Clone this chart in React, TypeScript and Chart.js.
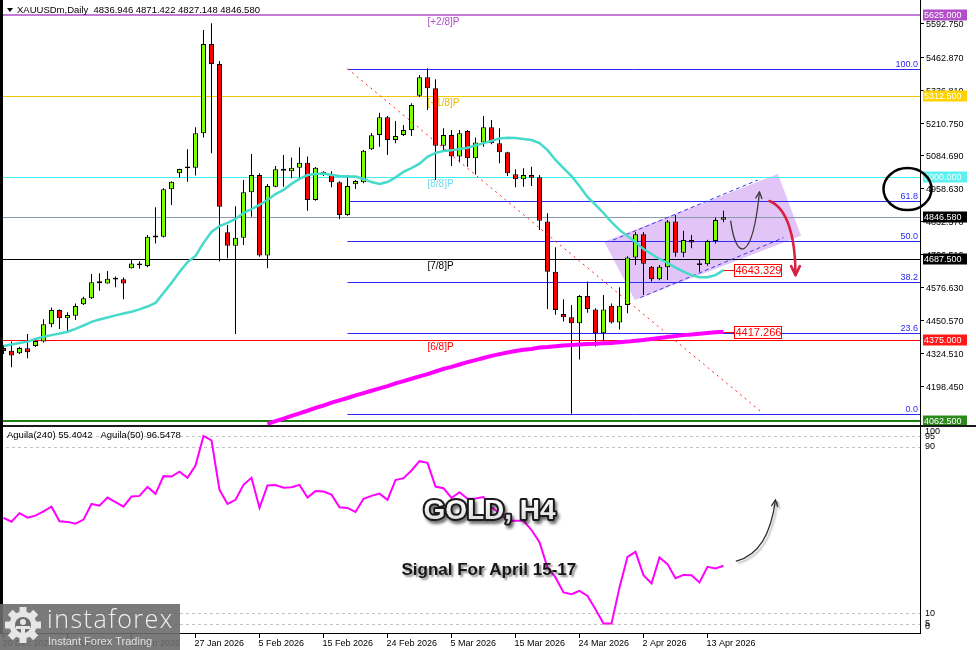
import React, { useEffect, useRef } from 'react';
import { Chart, registerables } from 'chart.js';

Chart.register(...registerables);

// ---------------- data ----------------
const headerText = 'XAUUSDm,Daily  4836.946 4871.422 4827.148 4846.580';
const xTickIndex = [0, 8, 16, 24, 32, 40, 48, 56, 64, 72, 80, 88];
const xTickLabels = ['30 Dec 2025', '8 Jan 2026', '18 Jan 2026', '27 Jan 2026', '5 Feb 2026', '15 Feb 2026', '24 Feb 2026', '5 Mar 2026', '15 Mar 2026', '24 Mar 2026', '2 Apr 2026', '13 Apr 2026'];

const opens = [4343, 4333, 4323, 4342, 4351, 4368, 4435, 4490, 4458, 4468,
  4512, 4535, 4593, 4592, 4607, 4608, 4650, 4669, 4659, 4769,
  4772, 4954, 5016, 5035, 5037, 5170, 5513, 5436, 4789, 4737,
  4768, 4943, 5009, 4699, 4964, 5026, 5024, 5037, 5056, 4913,
  5022, 5014, 4981, 4855, 4974, 4981, 5108, 5163, 5231, 5144,
  5163, 5182, 5314, 5385, 5343, 5122, 5163, 5080, 5179, 5074,
  5134, 5193, 5131, 5097, 5012, 4993, 5009, 5001, 4830, 4637,
  4474, 4462, 4439, 4544, 4492, 4400, 4506, 4442, 4509, 4692,
  4781, 4656, 4608, 4654, 4830, 4710, 4759, 4663, 4666, 4755,
  4836.946];
const highs = [4355, 4368, 4348, 4397, 4379, 4454, 4499, 4492, 4481, 4515,
  4541, 4628, 4631, 4640, 4619, 4615, 4682, 4677, 4778, 4885,
  4958, 4985, 5033, 5108, 5193, 5567, 5593, 5448, 4817, 4889,
  4990, 5090, 5016, 4975, 5044, 5086, 5077, 5116, 5080, 5040,
  5024, 5024, 4985, 5009, 4990, 5105, 5171, 5249, 5236, 5217,
  5202, 5285, 5394, 5420, 5378, 5189, 5182, 5182, 5182, 5154,
  5236, 5221, 5189, 5099, 5031, 5035, 5041, 5009, 4862, 4731,
  4531, 4509, 4547, 4599, 4496, 4547, 4515, 4577, 4697, 4790,
  4790, 4659, 4663, 4836, 4855, 4795, 4778, 4685, 4760, 4846,
  4871.422];
const lows = [4320, 4269, 4320, 4304, 4347, 4365, 4423, 4417, 4402, 4451,
  4509, 4532, 4564, 4592, 4577, 4531, 4649, 4648, 4654, 4746,
  4769, 4894, 4999, 4983, 5007, 5154, 5093, 4676, 4689, 4397,
  4740, 4849, 4695, 4650, 4962, 4964, 4997, 4997, 4872, 4910,
  5005, 4962, 4839, 4852, 4955, 4977, 5105, 5118, 5086, 5131,
  5159, 5159, 5309, 5259, 4990, 5099, 5044, 5057, 5041, 5011,
  5118, 5128, 5054, 5005, 4962, 4964, 4967, 4798, 4494, 4471,
  4445, 4090, 4299, 4479, 4349, 4368, 4438, 4415, 4477, 4663,
  4547, 4599, 4604, 4605, 4695, 4693, 4727, 4637, 4660, 4746,
  4827.148];
const closes = [4332, 4315, 4343, 4327, 4370, 4435, 4490, 4458, 4470, 4505,
  4535, 4596, 4600, 4610, 4614, 4592, 4669, 4662, 4772, 4776,
  4954, 4983, 5032, 5042, 5170, 5513, 5436, 4887, 4737, 4768,
  4943, 5009, 4699, 4967, 5031, 5033, 5037, 5056, 4913, 5037,
  5011, 4981, 4855, 4967, 4986, 5103, 5162, 5231, 5144, 5159,
  5182, 5279, 5385, 5343, 5122, 5163, 5080, 5170, 5074, 5134,
  5193, 5131, 5097, 5016, 4993, 5009, 4999, 4833, 4637, 4490,
  4462, 4439, 4544, 4494, 4400, 4492, 4442, 4506, 4692, 4781,
  4668, 4608, 4656, 4830, 4710, 4759, 4749, 4670, 4755, 4836,
  4846.58];

const maFast = [4351, 4357, 4363, 4368, 4378, 4387, 4393, 4399, 4406, 4417,
  4430, 4444, 4453, 4461, 4469, 4476, 4483, 4492, 4503, 4517,
  4555, 4594, 4636, 4674, 4698, 4748, 4790, 4813, 4825, 4840,
  4863, 4878, 4894, 4913, 4936, 4952, 4975, 4994, 5009, 5013,
  5015, 5009, 5005, 5003, 5003, 4994, 4982, 4975, 4982, 5000,
  5021, 5036, 5053, 5079, 5094, 5102, 5104, 5109, 5114, 5123,
  5132, 5140, 5150, 5153, 5152, 5148, 5144, 5132, 5105, 5067,
  5036, 5005, 4967, 4925, 4894, 4863, 4828, 4798, 4774, 4751,
  4724, 4705, 4686, 4671, 4653, 4637, 4624, 4616, 4616, 4624,
  4643.329];
const maFastLabel = '4643.329';

const maSlowStart = 33;
const maSlow = [4051, 4062, 4072, 4082, 4092, 4102, 4113, 4122, 4133, 4142,
  4151, 4161, 4170, 4179, 4188, 4197, 4207, 4216, 4225, 4234,
  4243, 4253, 4263, 4271, 4280, 4289, 4297, 4305, 4313, 4320,
  4326, 4332, 4337, 4340, 4345, 4347, 4350, 4353, 4355, 4357,
  4359, 4360, 4362, 4363, 4366, 4368, 4371, 4374, 4378, 4382,
  4386, 4390, 4393, 4395, 4398, 4401, 4404, 4406];
const maSlowLabel = '4417.266';

const priceTicks = [5592.75, 5462.87, 5336.81, 5210.75, 5084.69, 4958.63, 4832.57, 4706.51, 4576.63, 4450.57, 4324.51, 4198.45];
const PRICE_MIN = 4047.1;
const PRICE_MAX = 5682.7;
const X_MIN = -0.4375;
const X_MAX = 114.5625;

const murreyLevels = [5625, 5312.5, 5000, 4687.5, 4375, 4062.5];
const murreyNames = ['[+2/8]P', '[+1/8]P', '[8/8]P', '[7/8]P', '[6/8]P', ''];
const murreyColors = ['#B24FC8', '#F4C800', '#3EF0F0', '#000000', '#FF0000', '#1E7B14'];
const murreyWidths = [1.5, 1, 1, 1, 1, 2];
const murreyTextColors = ['#B24FC8', '#E8B800', '#70DCF2', '#000000', '#FF0000', '#1E7B14'];
const murreyBoxColors = ['#B24FC8', '#FFD200', '#5CF0F0', '#000000', '#FF1818', '#2C8A1C'];
const murreyLabelIndex = 53;

const lastPrice = 4846.58;

const fibHigh = 5418.3;
const fibLow = 4089.4;
const fibStartIndex = 43;
const fibLevels = [100, 61.8, 50, 38.2, 23.6, 0];

const trendIndex = [43, 94.9];
const trendPrice = [5418.3, 4093];

const channelIndex = [75.1, 96.8, 99.7, 78.9];
const channelPrice = [4752, 5013, 4775, 4528];
const channelUpperIndex = [76.2, 94.3];
const channelUpperPrice = [4759, 4990];
const channelLowerIndex = [79.6, 97.5];
const channelLowerPrice = [4537, 4768];

const pathArrowIndex = [90.9, 91.6, 93.6, 94.5];
const pathArrowPrice = [4832, 4674, 4674, 4944];
const redArrowIndex = [95.75, 97.9, 99.0, 99.0];
const redArrowPrice = [4909, 4882, 4778, 4624];
const circleIndex = 113;
const circlePrice = 4955;

const aguila = [55.8, 54.0, 58.1, 55.9, 56.9, 59.0, 61.2, 54.2, 53.9, 53.0,
  55.0, 62.5, 61.7, 65.6, 63.4, 61.2, 66.1, 66.4, 70.7, 67.4,
  75.9, 75.7, 78.0, 75.1, 81.0, 95.2, 93.1, 69.3, 62.5, 64.5,
  71.7, 75.1, 60.6, 71.4, 71.6, 70.3, 70.6, 71.7, 65.6, 68.7,
  68.5, 67.0, 60.9, 60.6, 58.7, 65.0, 66.4, 67.5, 64.5, 74.0,
  74.9, 78.6, 83.1, 82.3, 70.9, 70.1, 65.4, 68.2, 65.0, 65.1,
  65.8, 60.9, 58.1, 54.5, 54.5, 54.5, 50.0, 44.1, 32.0, 27.2,
  20.0, 19.1, 20.7, 18.3, 11.9, 5.0, 5.0, 22.4, 37.1, 39.5,
  28.3, 24.3, 36.8, 33.6, 26.8, 28.4, 28.3, 24.8, 32.3, 31.5,
  32.8];
const aguilaLevels = [95, 90, 10, 5];
const aguilaAxisLabels = [100, 95, 90, 10, 5, 0];
const aguilaTitle = 'Aguila(240) 55.4042   Aguila(50) 96.5478';

const lowerArrowIndex = [91.6, 94.4, 95.9, 96.5];
const lowerArrowValue = [35.0, 38.0, 47.6, 64.5];
const titleText = 'GOLD, H4';
const titleAt = [60.75, 58.9];
const signalText = 'Signal For April 15-17';
const signalAt = [60.67, 30.7];

const FONT = '"Liberation Sans", Arial, sans-serif';
const BULL = '#7CFF00';
const BEAR = '#FF0000';

// ---------------- helpers ----------------
function seg(ctx: any, x1: number, y1: number, x2: number, y2: number, color: string, w: number, dash?: number[]) {
  ctx.save();
  ctx.strokeStyle = color;
  ctx.lineWidth = w;
  ctx.setLineDash(dash || []);
  ctx.beginPath();
  ctx.moveTo(x1, y1);
  ctx.lineTo(x2, y2);
  ctx.stroke();
  ctx.restore();
}

function arrowHead(ctx: any, fx: number, fy: number, tx: number, ty: number, len: number, ang: number) {
  const a = Math.atan2(ty - fy, tx - fx);
  ctx.beginPath();
  ctx.moveTo(tx - len * Math.cos(a - ang), ty - len * Math.sin(a - ang));
  ctx.lineTo(tx, ty);
  ctx.lineTo(tx - len * Math.cos(a + ang), ty - len * Math.sin(a + ang));
  ctx.stroke();
}

function bezierArrow(ctx: any, pts: number[][], color: string, w: number, head: number) {
  ctx.save();
  ctx.strokeStyle = color;
  ctx.lineWidth = w;
  ctx.lineCap = 'round';
  ctx.lineJoin = 'round';
  ctx.beginPath();
  ctx.moveTo(pts[0][0], pts[0][1]);
  ctx.bezierCurveTo(pts[1][0], pts[1][1], pts[2][0], pts[2][1], pts[3][0], pts[3][1]);
  ctx.stroke();
  arrowHead(ctx, pts[2][0], pts[2][1], pts[3][0], pts[3][1], head, 0.45);
  ctx.restore();
}

const mainDecor = {
  id: 'mainDecor',
  beforeDatasetsDraw(chart: any) {
    const { ctx, chartArea: a } = chart;
    const X = (v: number) => chart.scales.x.getPixelForValue(v);
    const Y = (v: number) => chart.scales.y.getPixelForValue(v);
    ctx.save();
    ctx.beginPath();
    ctx.rect(a.left, a.top, a.right - a.left, a.bottom - a.top);
    ctx.clip();

    // channel box
    ctx.fillStyle = 'rgba(204,148,240,0.55)';
    ctx.beginPath();
    channelIndex.forEach((ci, k) => {
      const xx = X(ci), yy = Y(channelPrice[k]);
      if (k) ctx.lineTo(xx, yy); else ctx.moveTo(xx, yy);
    });
    ctx.closePath();
    ctx.fill();

    // last price line
    const lp = Math.round(Y(lastPrice)) + 0.5;
    seg(ctx, a.left, lp, a.right, lp, '#8A9AAE', 1);

    // fibonacci
    ctx.font = '9px ' + FONT;
    fibLevels.forEach((l) => {
      const v = fibLow + (fibHigh - fibLow) * l / 100;
      const yy = Math.round(Y(v)) + 0.5;
      seg(ctx, X(fibStartIndex), yy, a.right, yy, '#2A2AF2', 1);
      ctx.fillStyle = '#2A2AF2';
      ctx.textAlign = 'right';
      ctx.textBaseline = 'bottom';
      ctx.fillText(l.toFixed(1), a.right - 2, yy);
    });

    // murrey lines
    ctx.font = '10px ' + FONT;
    murreyLevels.forEach((lv, k) => {
      const yy = Math.round(Y(lv)) + (murreyWidths[k] === 1 ? 0.5 : 0);
      seg(ctx, a.left, yy, a.right, yy, murreyColors[k], murreyWidths[k]);
      if (murreyNames[k]) {
        ctx.fillStyle = murreyTextColors[k];
        ctx.textAlign = 'left';
        ctx.textBaseline = 'top';
        ctx.fillText(murreyNames[k], X(murreyLabelIndex), yy + 2);
      }
    });

    // channel dashed lines
    seg(ctx, X(channelUpperIndex[0]), Y(channelUpperPrice[0]), X(channelUpperIndex[1]), Y(channelUpperPrice[1]), '#3A3AF0', 1, [4, 3]);
    seg(ctx, X(channelLowerIndex[0]), Y(channelLowerPrice[0]), X(channelLowerIndex[1]), Y(channelLowerPrice[1]), '#3A3AF0', 1, [4, 3]);
    ctx.restore();
  },
  afterDatasetsDraw(chart: any) {
    const { ctx, chartArea: a } = chart;
    const X = (v: number) => chart.scales.x.getPixelForValue(v);
    const Y = (v: number) => chart.scales.y.getPixelForValue(v);
    ctx.save();
    ctx.beginPath();
    ctx.rect(a.left, a.top, a.right - a.left, a.bottom - a.top);
    ctx.clip();

    // trend line
    seg(ctx, X(trendIndex[0]), Y(trendPrice[0]), X(trendIndex[1]), Y(trendPrice[1]), '#FF2020', 1, [2, 4]);

    // path arrows
    bezierArrow(ctx, pathArrowIndex.map((v, k) => [X(v), Y(pathArrowPrice[k])]), '#3A3A3A', 1.3, 7);
    bezierArrow(ctx, redArrowIndex.map((v, k) => [X(v), Y(redArrowPrice[k])]), '#D82040', 2.6, 10);

    // MA value tags
    const tag = (i: number, v: number, text: string) => {
      const xx = X(i), yy = Math.round(Y(v)) + 0.5;
      seg(ctx, xx, yy, xx + 11, yy, '#FF0000', 1);
      ctx.fillStyle = '#FFFFFF';
      ctx.fillRect(xx + 11, yy - 6, 47, 12);
      ctx.strokeStyle = '#FF0000';
      ctx.lineWidth = 1;
      ctx.strokeRect(xx + 11, yy - 6, 47, 12);
      ctx.fillStyle = '#FF0000';
      ctx.font = '11px ' + FONT;
      ctx.textAlign = 'left';
      ctx.textBaseline = 'middle';
      ctx.fillText(text, xx + 12, yy + 0.5);
    };
    tag(maFast.length - 1, maFast[maFast.length - 1], maFastLabel);
    tag(maSlowStart + maSlow.length - 1, maSlow[maSlow.length - 1], maSlowLabel);
    ctx.restore();
  },
  afterDraw(chart: any) {
    const { ctx, chartArea: a, width, height } = chart;
    const X = (v: number) => chart.scales.x.getPixelForValue(v);
    const Y = (v: number) => chart.scales.y.getPixelForValue(v);
    ctx.save();
    // left strip and right axis line
    ctx.fillStyle = '#000';
    ctx.fillRect(0, 0, 3, height);
    seg(ctx, a.right + 0.5, 0, a.right + 0.5, height, '#000', 1);

    // price ticks
    ctx.font = '9px ' + FONT;
    ctx.textAlign = 'left';
    ctx.textBaseline = 'middle';
    priceTicks.forEach((v) => {
      const yy = Math.round(Y(v)) + 0.5;
      seg(ctx, a.right, yy, a.right + 4, yy, '#000', 1);
      ctx.fillStyle = '#000';
      ctx.fillText(v.toFixed(3), a.right + 6, yy + 1.5);
    });

    // level boxes
    const box = (v: number, color: string) => {
      const yy = Math.round(Y(v));
      ctx.fillStyle = color;
      ctx.fillRect(a.right + 3, yy - 5.5, 44, 11);
      ctx.fillStyle = '#FFFFFF';
      ctx.fillText(v.toFixed(3), a.right + 4, yy + 0.5);
    };
    murreyLevels.forEach((lv, k) => box(lv, murreyBoxColors[k]));
    box(lastPrice, '#000000');

    // header
    ctx.fillStyle = '#000';
    ctx.beginPath();
    ctx.moveTo(7, 8);
    ctx.lineTo(13, 8);
    ctx.lineTo(10, 12);
    ctx.closePath();
    ctx.fill();
    ctx.font = '9.5px ' + FONT;
    ctx.textBaseline = 'middle';
    ctx.fillText(headerText, 17, 10);

    // highlight ellipse
    ctx.strokeStyle = '#000';
    ctx.lineWidth = 2.5;
    ctx.beginPath();
    ctx.ellipse(X(circleIndex), Y(circlePrice), 24, 21, 0, 0, Math.PI * 2);
    ctx.stroke();
    ctx.restore();
  },
};

const subDecor = {
  id: 'subDecor',
  beforeDatasetsDraw(chart: any) {
    const { ctx, chartArea: a } = chart;
    const Y = (v: number) => chart.scales.y.getPixelForValue(v);
    aguilaLevels.forEach((lv) => {
      const yy = Math.round(Y(lv)) + 0.5;
      seg(ctx, a.left, yy, a.right, yy, '#C4C4C4', 1, [3, 3]);
    });
  },
  afterDatasetsDraw(chart: any) {
    const { ctx } = chart;
    const X = (v: number) => chart.scales.x.getPixelForValue(v);
    const Y = (v: number) => chart.scales.y.getPixelForValue(v);
    ctx.save();
    // GOLD, H4
    ctx.font = 'bold 28px ' + FONT;
    ctx.textAlign = 'center';
    ctx.textBaseline = 'middle';
    ctx.lineJoin = 'round';
    ctx.shadowColor = 'rgba(0,0,0,0.55)';
    ctx.shadowBlur = 3;
    ctx.shadowOffsetX = 2;
    ctx.shadowOffsetY = 3;
    ctx.lineWidth = 4;
    ctx.strokeStyle = '#1A1A1A';
    ctx.strokeText(titleText, X(titleAt[0]), Y(titleAt[1]));
    ctx.shadowColor = 'transparent';
    const g = ctx.createLinearGradient(0, Y(titleAt[1]) - 12, 0, Y(titleAt[1]) + 12);
    g.addColorStop(0, '#FFFFFF');
    g.addColorStop(1, '#D8D8D8');
    ctx.fillStyle = g;
    ctx.fillText(titleText, X(titleAt[0]), Y(titleAt[1]));

    // signal text
    ctx.font = 'bold 17px ' + FONT;
    ctx.shadowColor = 'rgba(0,0,0,0.45)';
    ctx.shadowBlur = 2;
    ctx.shadowOffsetX = 2;
    ctx.shadowOffsetY = 2;
    ctx.fillStyle = '#151515';
    ctx.fillText(signalText, X(signalAt[0]), Y(signalAt[1]));

    // arrow
    ctx.shadowColor = 'rgba(0,0,0,0.35)';
    ctx.shadowBlur = 2;
    ctx.shadowOffsetX = 2;
    ctx.shadowOffsetY = 2;
    bezierArrow(ctx, lowerArrowIndex.map((v, k) => [X(v), Y(lowerArrowValue[k])]), '#2A2A2A', 1.2, 7);
    ctx.restore();
  },
  afterDraw(chart: any) {
    const { ctx, chartArea: a, width } = chart;
    const X = (v: number) => chart.scales.x.getPixelForValue(v);
    const Y = (v: number) => chart.scales.y.getPixelForValue(v);
    ctx.save();
    // separator and borders
    ctx.fillStyle = '#1A1A1A';
    ctx.fillRect(0, 0, width, 2);
    ctx.fillStyle = '#000';
    ctx.fillRect(0, 0, 3, a.bottom);
    seg(ctx, a.right + 0.5, 0, a.right + 0.5, a.bottom, '#000', 1);
    seg(ctx, 0, a.bottom - 0.5, a.right, a.bottom - 0.5, '#000', 1);

    // title
    ctx.fillStyle = '#000';
    ctx.font = '9.5px ' + FONT;
    ctx.textAlign = 'left';
    ctx.textBaseline = 'middle';
    ctx.fillText(aguilaTitle, 7, 10);

    // right labels
    ctx.font = '9px ' + FONT;
    aguilaAxisLabels.forEach((v) => {
      const yy = Math.max(a.top + 6, Math.min(a.bottom - 7, Y(v)));
      ctx.fillText(String(v), a.right + 5, yy);
    });

    // x labels
    ctx.font = '9px ' + FONT;
    ctx.textBaseline = 'middle';
    xTickIndex.forEach((ti, k) => {
      const xx = Math.round(X(ti)) - 0.5;
      seg(ctx, xx, a.bottom, xx, a.bottom + 4, '#000', 1);
      ctx.fillStyle = '#000';
      ctx.fillText(xTickLabels[k], xx - 1, a.bottom + 9.5);
    });

    // instaforex logo
    const top = a.bottom - 30;
    ctx.fillStyle = 'rgba(108,108,108,0.9)';
    ctx.fillRect(0, top, 180, chart.height - top);
    const cx = 23, cy = top + 21;
    ctx.fillStyle = '#E6E6E6';
    for (let t = 0; t < 8; t++) {
      ctx.save();
      ctx.translate(cx, cy);
      ctx.rotate((t * Math.PI) / 4);
      ctx.fillRect(-3.5, -18, 7, 8);
      ctx.restore();
    }
    ctx.beginPath();
    ctx.arc(cx, cy, 13.5, 0, Math.PI * 2);
    ctx.fill();
    ctx.fillStyle = 'rgba(108,108,108,1)';
    ctx.beginPath();
    ctx.arc(cx, cy, 8, 0, Math.PI * 2);
    ctx.fill();
    ctx.fillStyle = '#E6E6E6';
    ctx.beginPath();
    ctx.arc(cx, cy - 3, 3, 0, Math.PI * 2);
    ctx.fill();
    ctx.fillRect(cx - 2, cy + 1, 4, 16);
    ctx.fillRect(cx - 7, cy + 1, 14, 3);

    ctx.fillStyle = '#F0F0F0';
    ctx.font = '300 25px "Open Sans", ' + FONT;
    try { (ctx as any).letterSpacing = '1.5px'; } catch (e) { /* ignore */ }
    ctx.textBaseline = 'alphabetic';
    ctx.fillText('instaforex', 47, top + 24);
    try { (ctx as any).letterSpacing = '0px'; } catch (e) { /* ignore */ }
    ctx.fillStyle = '#E0E0E0';
    ctx.font = '11px ' + FONT;
    ctx.fillText('Instant Forex Trading', 48, top + 41);
    ctx.restore();
  },
};

export default function App() {
  const topRef = useRef<HTMLCanvasElement | null>(null);
  const botRef = useRef<HTMLCanvasElement | null>(null);

  useEffect(() => {
    Chart.defaults.font.family = FONT;
    const idx = closes.map((_, i) => i);
    const bodyData = idx.map((i) => ({ x: i, y: [opens[i], closes[i]] }));
    const wickData = idx.map((i) => ({ x: i, y: [lows[i], highs[i]] }));
    const bodyColors = idx.map((i) => (closes[i] >= opens[i] ? BULL : BEAR));
    const fastData = maFast.map((v, i) => ({ x: i, y: v }));
    const slowData = maSlow.map((v, k) => ({ x: k + maSlowStart, y: v }));
    const aguilaData = aguila.map((v, i) => ({ x: i, y: v }));

    const xScale = {
      type: 'linear',
      min: X_MIN,
      max: X_MAX,
      display: false,
      offset: false,
      grid: { display: false },
      afterBuildTicks: (s: any) => {
        s.ticks = xTickIndex.map((v) => ({ value: v }));
      },
    };

    const top = new Chart(topRef.current as HTMLCanvasElement, {
      type: 'bar',
      data: {
        datasets: [
          { type: 'line', data: fastData, borderColor: '#46DACB', borderWidth: 2.5, pointRadius: 0, tension: 0, order: 0 },
          { type: 'line', data: slowData, borderColor: '#FF00FF', borderWidth: 4, pointRadius: 0, tension: 0, order: 1 },
          { type: 'bar', data: bodyData, backgroundColor: bodyColors, borderColor: '#000', borderWidth: 1, borderSkipped: false, barThickness: 5, maxBarThickness: 5, grouped: false, inflateAmount: 0, order: 2 },
          { type: 'bar', data: wickData, backgroundColor: '#000', borderWidth: 0, barThickness: 1, maxBarThickness: 1, grouped: false, inflateAmount: 0, order: 3 },
        ] as any,
      },
      options: {
        responsive: false,
        maintainAspectRatio: false,
        animation: false,
        events: [],
        layout: { padding: { left: 0, right: 56, top: 0, bottom: 0 } },
        plugins: { legend: { display: false }, tooltip: { enabled: false } },
        scales: {
          x: xScale as any,
          y: { type: 'linear', min: PRICE_MIN, max: PRICE_MAX, display: false, beginAtZero: false, grid: { display: false } },
        },
      } as any,
      plugins: [mainDecor],
    });

    const bottom = new Chart(botRef.current as HTMLCanvasElement, {
      type: 'line',
      data: {
        datasets: [
          { data: aguilaData, borderColor: '#FF00FF', borderWidth: 2, pointRadius: 0, tension: 0 },
        ] as any,
      },
      options: {
        responsive: false,
        maintainAspectRatio: false,
        animation: false,
        events: [],
        layout: { padding: { left: 0, right: 56, top: 1, bottom: 16 } },
        plugins: { legend: { display: false }, tooltip: { enabled: false } },
        scales: {
          x: xScale as any,
          y: { type: 'linear', min: 0, max: 100, display: false, grid: { display: false } },
        },
      } as any,
      plugins: [subDecor],
    });

    return () => {
      top.destroy();
      bottom.destroy();
    };
  }, []);

  return (
    <div style={{ position: 'absolute', left: 0, top: 0, width: 976, height: 650, background: '#FFFFFF', overflow: 'hidden' }}>
      <canvas ref={topRef} width={976} height={425} style={{ position: 'absolute', left: 0, top: 0 }} />
      <canvas ref={botRef} width={976} height={225} style={{ position: 'absolute', left: 0, top: 425 }} />
    </div>
  );
}
